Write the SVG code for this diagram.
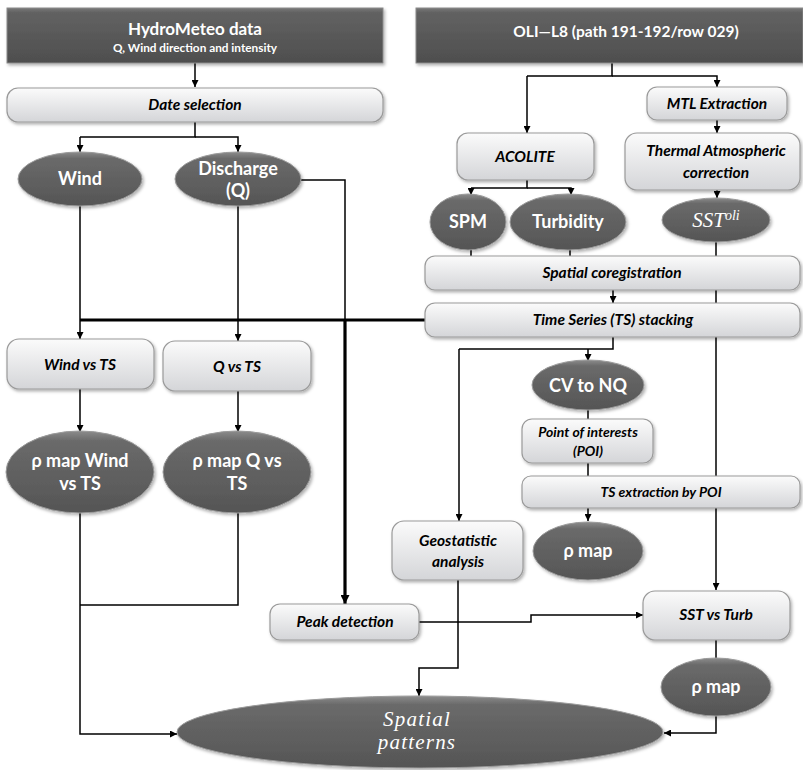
<svg xmlns="http://www.w3.org/2000/svg" width="803" height="770" viewBox="0 0 803 770">
<defs>
<linearGradient id="gHead" x1="0" y1="0" x2="0" y2="1">
<stop offset="0" stop-color="#7a7a7a"/><stop offset="0.08" stop-color="#626262"/><stop offset="1" stop-color="#4e4e4e"/>
</linearGradient>
<linearGradient id="gBox" x1="0" y1="0" x2="0" y2="1">
<stop offset="0" stop-color="#fbfbfb"/><stop offset="1" stop-color="#d4d5d8"/>
</linearGradient>
<linearGradient id="gEll" x1="0" y1="0" x2="0" y2="1">
<stop offset="0" stop-color="#8c8c8c"/><stop offset="0.12" stop-color="#6a6a6a"/><stop offset="1" stop-color="#555555"/>
</linearGradient>
<filter id="sh" x="-10%" y="-10%" width="125%" height="140%">
<feDropShadow dx="1.5" dy="2" stdDeviation="1.5" flood-color="#000" flood-opacity="0.3"/>
</filter>
<marker id="ar" viewBox="0 0 10 10" refX="10" refY="5" markerWidth="7" markerHeight="7" markerUnits="userSpaceOnUse" orient="auto">
<path d="M0,0 L10,5 L0,10 z" fill="#000"/>
</marker>
<marker id="arB" viewBox="0 0 10 10" refX="10" refY="5" markerWidth="9" markerHeight="9" markerUnits="userSpaceOnUse" orient="auto">
<path d="M0,0 L10,5 L0,10 z" fill="#000"/>
</marker>
</defs>
<style>
.head{fill:url(#gHead);stroke:#8a8a8a;stroke-width:1;filter:url(#sh)}
.box{fill:url(#gBox);stroke:#9a9a9a;stroke-width:1.2;filter:url(#sh)}
.ell{fill:url(#gEll);stroke:#9a9a9a;stroke-width:1;filter:url(#sh)}
.c{fill:none;stroke:#000;stroke-width:1.5}
.ca{fill:none;stroke:#000;stroke-width:1.5;marker-end:url(#ar)}
.ct{fill:none;stroke:#000;stroke-width:3.2}
.cta{fill:none;stroke:#000;stroke-width:3.2;marker-end:url(#arB)}
text{font-family:Lato,"Noto Sans","Liberation Sans",sans-serif;text-anchor:middle;font-weight:bold}
.tw{fill:#ffffff;font-size:18px}
.tb{fill:#000000;font-style:italic;font-size:15.5px}
.ts{font-size:14px}
.math{font-family:"Liberation Serif","DejaVu Serif",serif;font-style:italic;font-weight:normal;fill:#ffffff}
</style>
<rect width="803" height="770" fill="#ffffff"/>

<g id="connectors">
<path class="ca" d="M195,63 V87"/>
<path class="c" d="M195,122 V137 H80"/>
<path class="ca" d="M80,137 V152"/>
<path class="ca" d="M195,137 H238 V152"/>
<path class="c" d="M300,180 H345 V320"/>
<path class="ca" d="M80,205 V339"/>
<path class="ca" d="M238,205 V341"/>
<path class="ct" d="M80,320 H427"/>
<path class="cta" d="M345,320 V604"/>
<path class="ca" d="M80,389 V432"/>
<path class="ca" d="M238,391 V432"/>
<path class="c" d="M238,513 V605 H80"/>
<path class="ca" d="M80,513 V734 H177"/>
<path class="c" d="M612,63 V76 H527"/>
<path class="ca" d="M527,76 V133"/>
<path class="ca" d="M612,76 H717 V87"/>
<path class="ca" d="M717,120 V133"/>
<path class="ca" d="M717,190 V198"/>
<path class="c" d="M527,180 V188 H471"/>
<path class="ca" d="M471,188 V195"/>
<path class="ca" d="M527,188 H571 V195"/>
<path class="c" d="M471,248 V257"/>
<path class="c" d="M570,248 V257"/>
<path class="ca" d="M716,242 V590"/>
<path class="ca" d="M613,290 V303"/>
<path class="c" d="M613,337 V349 H459"/>
<path class="ca" d="M459,349 V521"/>
<path class="ca" d="M588,349 V361"/>
<path class="c" d="M588,409 V420"/>
<path class="c" d="M588,463 V476"/>
<path class="ca" d="M588,508 V521"/>
<path class="ca" d="M419,622 H531 V615 H643"/>
<path class="ca" d="M458,580 V668 H419 V696"/>
<path class="c" d="M716,640 V658"/>
<path class="ca" d="M716,716 V733 H664"/>
</g>

<g id="n-hydro"><rect class="head" x="7" y="8" width="376" height="55"/>
<text x="195" y="35" font-size="17" fill="#fff">HydroMeteo data</text>
<text x="195" y="52" font-size="11.8" fill="#fff">Q, Wind direction and intensity</text></g>

<g id="n-oli"><rect class="head" x="416" y="8" width="387" height="55"/>
<text x="626" y="37" font-size="15.5" fill="#fff">OLI—L8 (path 191-192/row 029)</text></g>

<g id="n-date"><rect class="box" x="7" y="88" width="376" height="34" rx="11"/>
<text class="tb" x="195" y="110">Date selection</text></g>

<g id="n-wind"><ellipse class="ell" cx="80" cy="179" rx="62" ry="27"/>
<text class="tw" x="80" y="185">Wind</text></g>

<g id="n-discharge"><ellipse class="ell" cx="238" cy="179" rx="63" ry="27"/>
<text class="tw" x="238" y="175">Discharge</text>
<text class="tw" x="238" y="197">(Q)</text></g>

<g id="n-mtl"><rect class="box" x="647" y="87" width="140" height="33" rx="10"/>
<text class="tb" x="717" y="109">MTL Extraction</text></g>

<g id="n-acolite"><rect class="box" x="457" y="133" width="137" height="47" rx="11"/>
<text class="tb" x="525" y="162">ACOLITE</text></g>

<g id="n-thermal"><rect class="box" x="625" y="133" width="175" height="57" rx="12"/>
<text class="tb" x="716" y="156">Thermal Atmospheric</text>
<text class="tb" x="716" y="178">correction</text></g>

<g id="n-spm"><ellipse class="ell" cx="468" cy="222" rx="38" ry="28"/>
<text class="tw" x="468" y="228">SPM</text></g>

<g id="n-turb"><ellipse class="ell" cx="568" cy="222" rx="58" ry="28"/>
<text class="tw" x="568" y="228">Turbidity</text></g>

<g id="n-sst"><ellipse class="ell" cx="716" cy="220" rx="54" ry="22"/>
<text class="math" x="716" y="227" font-size="21" font-weight="bold">SST<tspan font-size="14" dy="-7">oli</tspan></text></g>

<g id="n-coreg"><rect class="box" x="425" y="256" width="375" height="34" rx="10"/>
<text class="tb" x="612" y="278">Spatial  coregistration</text></g>

<g id="n-tsstack"><rect class="box" x="425" y="303" width="375" height="34" rx="10"/>
<text class="tb" x="613" y="325">Time Series (TS) stacking</text></g>

<g id="n-windts"><rect class="box" x="7" y="339" width="147" height="50" rx="12"/>
<text class="tb" x="80" y="370">Wind vs TS</text></g>

<g id="n-qts"><rect class="box" x="163" y="341" width="148" height="50" rx="12"/>
<text class="tb" x="237" y="372">Q vs TS</text></g>

<g id="n-rhowind"><ellipse class="ell" cx="80" cy="472" rx="74" ry="41"/>
<text class="tw" x="80" y="467">ρ map Wind</text>
<text class="tw" x="80" y="490">vs TS</text></g>

<g id="n-rhoq"><ellipse class="ell" cx="237" cy="472" rx="74" ry="41"/>
<text class="tw" x="237" y="467">ρ map Q vs</text>
<text class="tw" x="237" y="490">TS</text></g>

<g id="n-cvnq"><ellipse class="ell" cx="588" cy="385" rx="56" ry="25"/>
<text class="tw" x="588" y="392">CV to NQ</text></g>

<g id="n-poi"><rect class="box" x="522" y="419" width="131" height="44" rx="10"/>
<text class="tb ts" x="588" y="437">Point of interests</text>
<text class="tb ts" x="588" y="456">(POI)</text></g>

<g id="n-tsext"><rect class="box" x="522" y="476" width="278" height="32" rx="9"/>
<text class="tb ts" x="661" y="497">TS extraction  by POI</text></g>

<g id="n-rho1"><ellipse class="ell" cx="588" cy="551" rx="55" ry="29"/>
<text class="tw" x="588" y="557">ρ map</text></g>

<g id="n-geo"><rect class="box" x="392" y="521" width="131" height="59" rx="12"/>
<text class="tb" x="458" y="546">Geostatistic</text>
<text class="tb" x="458" y="567">analysis</text></g>

<g id="n-peak"><rect class="box" x="270" y="604" width="149" height="36" rx="10"/>
<text class="tb" x="345" y="627">Peak detection</text></g>

<g id="n-sstturb"><rect class="box" x="643" y="591" width="147" height="49" rx="12"/>
<text class="tb" x="716" y="620">SST vs Turb</text></g>

<g id="n-rho2"><ellipse class="ell" cx="716" cy="687" rx="55" ry="29"/>
<text class="tw" x="716" y="693">ρ map</text></g>

<g id="n-spatial"><ellipse class="ell" cx="420" cy="732" rx="243" ry="36"/>
<text class="math" x="417" y="726" font-size="21" letter-spacing="1.2">Spatial</text>
<text class="math" x="417" y="749" font-size="21" letter-spacing="1.2">patterns</text></g>
</svg>
